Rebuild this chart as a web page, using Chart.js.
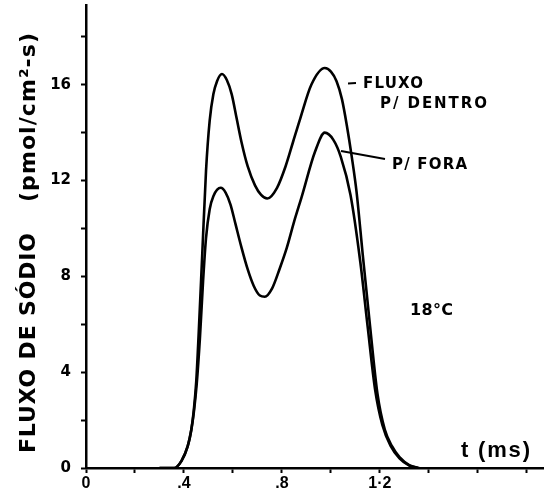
<!DOCTYPE html>
<html>
<head>
<meta charset="utf-8">
<script src="https://cdn.jsdelivr.net/npm/chart.js"></script>
<style>
  body { margin: 0; background: #fff; }
  #wrap { width: 544px; height: 491px; position: relative; }
</style>
</head>
<body>
<div id="wrap"><canvas id="fluxChart"></canvas></div>
<script>
  // tick labels
  const xTickLabels = { 0: '0', 4: '.4', 8: '.8', 12: '1·2' };
  const yTickLabels = { 0: '0', 4: '4', 8: '8', 12: '12', 16: '16' };

  // FLUXO P/ DENTRO (time in ms, flux in pmol/cm2-s)
  const tIn = [0.30, 0.36, 0.39, 0.415, 0.43, 0.44, 0.45, 0.46, 0.475, 0.49, 0.505, 0.52, 0.535, 0.555, 0.575, 0.595, 0.615, 0.635, 0.66, 0.69, 0.715, 0.74, 0.78, 0.815, 0.845, 0.875, 0.92, 0.975, 1.0, 1.023, 1.045, 1.065, 1.085, 1.105, 1.13, 1.16, 1.19, 1.22, 1.25, 1.28, 1.32, 1.36];
  const fluxIn = [0, 0, 0.3, 0.9, 1.6, 2.4, 3.6, 5.6, 9.0, 12.4, 14.5, 15.6, 16.15, 16.45, 16.2, 15.6, 14.6, 13.6, 12.6, 11.8, 11.4, 11.25, 11.7, 12.6, 13.6, 14.6, 16.0, 16.7, 16.55, 16.15, 15.4, 14.3, 13.0, 11.5, 8.9, 5.9, 3.1, 1.6, 0.9, 0.45, 0.12, 0];

  // P/ FORA
  const tOut = [0.30, 0.36, 0.39, 0.415, 0.43, 0.44, 0.452, 0.465, 0.478, 0.49, 0.505, 0.52, 0.55, 0.57, 0.59, 0.61, 0.635, 0.66, 0.685, 0.71, 0.73, 0.76, 0.79, 0.82, 0.85, 0.88, 0.935, 0.975, 1.01, 1.04, 1.08, 1.12, 1.15, 1.18, 1.21, 1.245, 1.28, 1.32, 1.355];
  const fluxOut = [0, 0, 0.3, 0.9, 1.6, 2.3, 3.5, 5.4, 7.8, 9.6, 10.8, 11.35, 11.7, 11.5, 11.0, 10.2, 9.2, 8.3, 7.6, 7.2, 7.15, 7.5, 8.3, 9.2, 10.3, 11.3, 13.2, 14.0, 13.7, 13.0, 11.4, 8.6, 5.9, 3.3, 1.8, 0.9, 0.4, 0.1, 0];

  const FONT = '"Liberation Sans", Arial, sans-serif';
  const LABEL_FONT = '"DejaVu Sans", "Liberation Sans", sans-serif';

  // draw text stretched with letter spacing so it spans the given width
  function fitText(ctx, text, x, y, width) {
    ctx.letterSpacing = '0px';
    const w = ctx.measureText(text).width;
    const gap = text.length > 1 ? (width - w) / (text.length - 1) : 0;
    ctx.letterSpacing = Math.max(gap, 0) + 'px';
    ctx.fillText(text, x, y);
    ctx.letterSpacing = '0px';
  }

  // labels, pointer lines and rotated axis title
  const annotations = {
    id: 'annotations',
    afterDraw(chart) {
      const ctx = chart.ctx;
      ctx.save();
      ctx.fillStyle = '#000';
      ctx.strokeStyle = '#000';
      ctx.textBaseline = 'alphabetic';
      ctx.textAlign = 'left';

      ctx.font = 'bold 15px ' + LABEL_FONT;
      fitText(ctx, 'FLUXO', 363, 88, 60);
      fitText(ctx, 'P/ DENTRO', 380, 108, 107);
      fitText(ctx, 'P/ FORA', 392, 169, 75);
      ctx.font = 'bold 16px ' + LABEL_FONT;
      fitText(ctx, '18°C', 410, 315, 43);

      ctx.lineWidth = 1.8;
      ctx.beginPath();
      ctx.moveTo(348, 83.5); ctx.lineTo(356, 83);
      ctx.moveTo(341, 151); ctx.lineTo(385, 159);
      ctx.stroke();

      ctx.font = 'bold 22px ' + FONT;
      fitText(ctx, 't (ms)', 461, 457, 69);

      // y axis title, reading bottom to top
      ctx.translate(35, 0);
      ctx.rotate(-Math.PI / 2);
      ctx.font = 'bold 22px ' + LABEL_FONT;
      fitText(ctx, 'FLUXO DE SÓDIO', -453, 0, 220);
      fitText(ctx, '(pmol/cm²-s)', -202, 0, 169);
      ctx.restore();
    }
  };

  const toPoints = (ts, vs) => ts.map((t, i) => ({ x: t, y: vs[i] }));

  const ctx = document.getElementById('fluxChart').getContext('2d');
  new Chart(ctx, {
    type: 'line',
    data: {
      datasets: [
        { label: 'FLUXO P/ DENTRO', data: toPoints(tIn, fluxIn) },
        { label: 'P/ FORA', data: toPoints(tOut, fluxOut) }
      ]
    },
    options: {
      responsive: true,
      maintainAspectRatio: false,
      animation: false,
      layout: { padding: { top: 5, left: 0, right: 0, bottom: 0 } },
      elements: {
        line: { borderColor: '#000', borderWidth: 2.6, cubicInterpolationMode: 'monotone', fill: false },
        point: { radius: 0 }
      },
      plugins: {
        legend: { display: false },
        tooltip: { enabled: false }
      },
      scales: {
        x: {
          type: 'linear',
          min: 0,
          max: 1.87,
          afterFit: s => { s.height = 23; s.paddingLeft = 0; s.paddingRight = 0; },
          border: { color: '#000', width: 2.5 },
          grid: { drawOnChartArea: false, tickLength: 5, tickColor: '#000', tickWidth: 2 },
          ticks: {
            stepSize: 0.2,
            includeBounds: false,
            autoSkip: false,
            maxRotation: 0,
            padding: 1,
            color: '#000',
            font: { family: FONT, size: 16, weight: 'bold' },
            callback: v => xTickLabels[Math.round(v * 10)] || ''
          }
        },
        y: {
          min: 0,
          max: 19.33,
          afterFit: s => { s.width = 86; s.paddingTop = 0; s.paddingBottom = 0; },
          border: { color: '#000', width: 2.5 },
          grid: { drawOnChartArea: false, tickLength: 5, tickColor: '#000', tickWidth: 2 },
          ticks: {
            stepSize: 2,
            includeBounds: false,
            autoSkip: false,
            padding: 10,
            color: '#000',
            font: { family: LABEL_FONT, size: 15, weight: 'bold' },
            callback: v => yTickLabels[Math.round(v)] || ''
          }
        }
      }
    },
    plugins: [annotations]
  });
</script>
</body>
</html>
